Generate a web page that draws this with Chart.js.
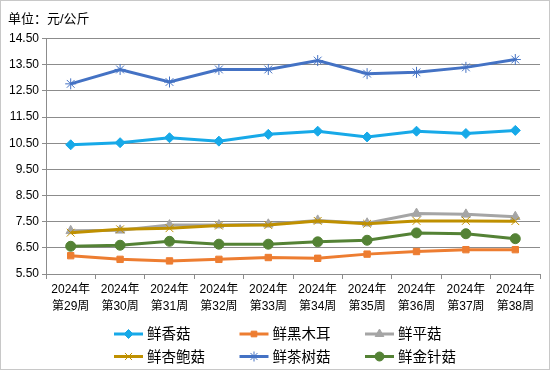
<!DOCTYPE html>
<html>
<head>
<meta charset="utf-8">
<script src="https://cdn.jsdelivr.net/npm/chart.js"></script>
<style>
  html, body { margin: 0; padding: 0; background: #fff; }
  #wrap { width: 550px; height: 370px; }
</style>
</head>
<body>
<div id="wrap"><canvas id="mushroom-chart" width="550" height="370"></canvas></div>
<script>
const weeks = ['第29周', '第30周', '第31周', '第32周', '第33周', '第34周', '第35周', '第36周', '第37周', '第38周'];
const xianggu = [10.44, 10.52, 10.71, 10.58, 10.84, 10.96, 10.74, 10.96, 10.87, 10.99];
const heimuer = [6.20, 6.06, 6.00, 6.06, 6.13, 6.10, 6.26, 6.36, 6.43, 6.43];
const pinggu = [7.15, 7.17, 7.37, 7.37, 7.40, 7.55, 7.44, 7.81, 7.78, 7.69];
const xingbaogu = [7.08, 7.21, 7.25, 7.35, 7.37, 7.53, 7.42, 7.53, 7.53, 7.52];
const chashugu = [12.77, 13.32, 12.84, 13.32, 13.32, 13.66, 13.16, 13.21, 13.40, 13.70];
const jinzhengu = [6.56, 6.60, 6.75, 6.64, 6.64, 6.73, 6.79, 7.07, 7.04, 6.85];

const fontFamily = '"Liberation Sans", "Noto Sans CJK SC", sans-serif';

const series = [
  { label: '鲜香菇', data: xianggu, color: '#17a9e8', style: 'rectRot', r: 5 },
  { label: '鲜黑木耳', data: heimuer, color: '#ed7d31', style: 'rect', r: 4.5 },
  { label: '鲜平菇', data: pinggu, color: '#a5a5a5', style: 'triangle', r: 5.5 },
  { label: '鲜杏鲍菇', data: xingbaogu, color: '#bf9000', style: 'crossRot', r: 5.5 },
  { label: '鲜茶树菇', data: chashugu, color: '#4472c4', style: 'star', r: 5.5 },
  { label: '鲜金针菇', data: jinzhengu, color: '#548235', style: 'circle', r: 5 }
];

// border + legend drawn by hand so it can sit in 3 columns
const frame = {
  id: 'frame',
  beforeDraw(chart) {
    const ctx = chart.ctx;
    ctx.save();
    ctx.strokeStyle = '#c8c8c8';
    ctx.lineWidth = 1;
    ctx.strokeRect(0.5, 0.5, chart.width - 1, chart.height - 1);
    ctx.restore();
  },
  afterDraw(chart) {
    const ctx = chart.ctx;
    ctx.save();
    series.forEach((s, i) => {
      const x = 114 + (i % 3) * 125.5;
      const y = 334 + Math.floor(i / 3) * 22.5;
      ctx.strokeStyle = s.color;
      ctx.lineWidth = 3;
      ctx.beginPath();
      ctx.moveTo(x, y);
      ctx.lineTo(x + 29, y);
      ctx.stroke();
      ctx.fillStyle = s.color;
      ctx.strokeStyle = s.color;
      ctx.lineWidth = 1;
      Chart.helpers.drawPoint(ctx, { pointStyle: s.style, radius: s.r - 0.5, rotation: 0, borderWidth: 1 }, x + 14.5, y);
      ctx.fillStyle = '#000';
      ctx.font = '14.5px ' + fontFamily;
      ctx.textBaseline = 'middle';
      ctx.textAlign = 'left';
      ctx.fillText(s.label, x + 33, y + 1);
    });
    ctx.restore();
  }
};

const ctx = document.getElementById('mushroom-chart').getContext('2d');
const chart = new Chart(ctx, {
  type: 'line',
  data: {
    labels: weeks.map(w => ['2024年', w]),
    datasets: series.map((s, i) => ({
      label: s.label,
      data: s.data,
      borderColor: s.color,
      backgroundColor: s.color,
      borderWidth: 3,
      pointStyle: s.style,
      pointRadius: s.r,
      pointBorderWidth: 1,
      pointBorderColor: s.color,
      pointBackgroundColor: s.color,
      tension: 0,
      order: 6 - i
    }))
  },
  options: {
    responsive: false,
    animation: false,
    layout: { padding: { left: 8, right: 10, top: 0, bottom: 0 } },
    plugins: {
      legend: { display: false },
      tooltip: { enabled: false },
      title: {
        display: true,
        text: '单位：元/公斤',
        align: 'start',
        color: '#000',
        font: { size: 13, family: fontFamily, weight: 'normal' },
        padding: { top: 12, bottom: 11 }
      }
    },
    scales: {
      x: {
        offset: true,
        grid: { display: true, drawOnChartArea: false, offset: true, color: '#8c8c8c', tickLength: 5 },
        border: { color: '#8c8c8c' },
        ticks: {
          color: '#000',
          font: { size: 12, family: fontFamily, lineHeight: 1.45 },
          maxRotation: 0,
          autoSkip: false,
          padding: 2
        },
        afterFit: s => { s.height = 96; }
      },
      y: {
        min: 5.5,
        max: 14.5,
        grid: { color: '#8c8c8c', tickLength: 4 },
        border: { color: '#8c8c8c' },
        ticks: {
          stepSize: 1,
          color: '#000',
          padding: 3,
          font: { size: 12, family: fontFamily },
          callback: v => v.toFixed(2)
        },
        afterFit: s => { s.width = 38; }
      }
    }
  },
  plugins: [frame]
});
</script>
</body>
</html>
